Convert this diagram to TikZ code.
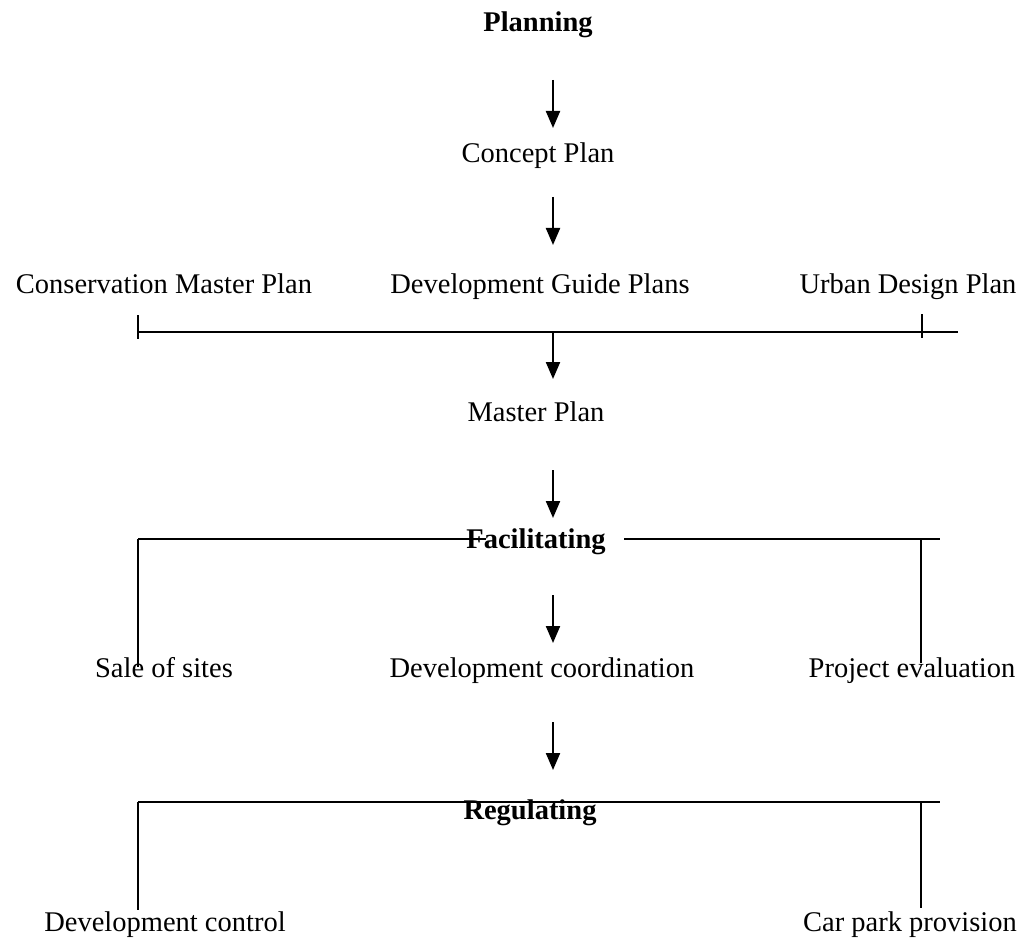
\documentclass[tikz,border=0pt]{standalone}
\usepackage{fontspec}
\setmainfont{Liberation Serif}
\usetikzlibrary{arrows.meta}
\begin{document}
\begin{tikzpicture}[x=1pt,y=-1pt,
  lbl/.style={inner sep=0pt,anchor=base,font=\fontsize{28.5}{32}\selectfont},
  head/.style={lbl,font=\fontsize{28.5}{32}\selectfont\bfseries},
  arr/.style={line width=2.2pt,-{Triangle[length=17pt,width=14pt]}},
  bar/.style={line width=2pt},
  tick/.style={line width=1.4pt}]
\useasboundingbox (0,0) rectangle (1019,941);
% texts (positions are baselines)
\node[head] (plan) at (538,32) {Planning};
\node[lbl] (concept) at (538,163) {Concept Plan};
\node[lbl] (cmp) at (164,293) {Conservation Master Plan};
\node[lbl] (dgp) at (540,293) {Development Guide Plans};
\node[lbl] (udp) at (908,293) {Urban Design Plan};
\node[lbl] (master) at (536,421) {Master Plan};
\node[head] (fac) at (536,548) {Facilitating};
\node[lbl] (sale) at (164,677) {Sale of sites};
\node[lbl] (dc) at (542,677) {Development coordination};
\node[lbl] (pe) at (912,677) {Project evaluation};
\node[head] (reg) at (530,819) {Regulating};
\node[lbl] (devc) at (165,931) {Development control};
\node[lbl] (cpp) at (910,931) {Car park provision};
% coordinates
\coordinate (a1s) at (553,80);   \coordinate (a1e) at (553,128);
\coordinate (a2s) at (553,197);  \coordinate (a2e) at (553,245);
\coordinate (b1l) at (138,332);  \coordinate (b1r) at (958,332);
\coordinate (b1m) at (553,332);  \coordinate (a3e) at (553,379);
\coordinate (a4s) at (553,470);  \coordinate (a4e) at (553,518);
\coordinate (b2l) at (138,539);  \coordinate (b2a) at (486,539);
\coordinate (b2b) at (624,539);  \coordinate (b2r) at (940,539);
\coordinate (b2rt) at (921,539);
\coordinate (a5s) at (553,595);  \coordinate (a5e) at (553,643);
\coordinate (a6s) at (553,722);  \coordinate (a6e) at (553,770);
\coordinate (b3l) at (138,802);  \coordinate (b3r) at (940,802);
\coordinate (b3rt) at (921,802);
% arrows
\draw[arr] (a1s) -- (a1e);
\draw[arr] (a2s) -- (a2e);
\draw[arr] (b1m) -- (a3e);
\draw[arr] (a4s) -- (a4e);
\draw[arr] (a5s) -- (a5e);
\draw[arr] (a6s) -- (a6e);
% bar 1
\draw[bar] (b1l) -- (b1r);
\draw[tick] (138,315) -- (138,339);
\draw[tick] (922,314) -- (922,338);
% bar 2
\draw[bar] (b2l) -- (b2a);
\draw[bar] (b2b) -- (b2r);
\draw[tick] (b2l) -- (138,667);
\draw[tick] (b2rt) -- (921,663);
% bar 3
\draw[bar] (b3l) -- (b3r);
\draw[tick] (b3l) -- (138,910);
\draw[tick] (b3rt) -- (921,908);
\end{tikzpicture}
\end{document}
